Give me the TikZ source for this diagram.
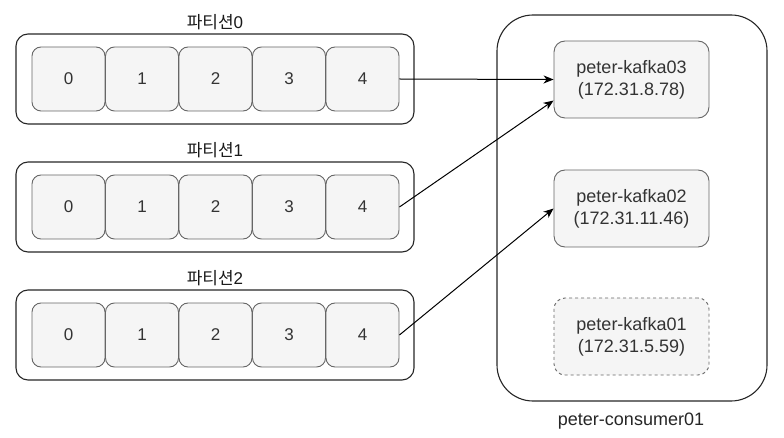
\documentclass[tikz,border=0pt]{standalone}
\usepackage{fontspec}
\setmainfont{Liberation Sans}
\newfontfamily\krfont{Noto Sans CJK KR}
\usetikzlibrary{arrows.meta,calc}
\definecolor{cellfill}{HTML}{F5F5F5}
\definecolor{cellline}{HTML}{666666}
\definecolor{txt}{HTML}{333333}
\begin{document}
\begin{tikzpicture}[x=1pt,y=-1pt,
  cellbox/.style={draw=cellline,fill=cellfill,rounded corners=9pt,line width=0.9pt,minimum width=73pt,minimum height=64pt,inner sep=0pt,text=txt,font=\fontsize{17}{20}\selectfont},
  partbox/.style={draw=black!85,rounded corners=12pt,line width=1.1pt,minimum width=398pt,minimum height=90pt,inner sep=0pt},
  partlabel/.style={font=\fontsize{17}{20}\selectfont,text=black!90},
  hostbox/.style={draw=cellline,fill=cellfill,rounded corners=11pt,line width=0.9pt,minimum width=155pt,minimum height=77pt,inner sep=0pt,text=txt,align=center,font=\fontsize{18}{22}\selectfont},
  container/.style={draw=black!85,rounded corners=36pt,line width=1.1pt,minimum width=270pt,minimum height=386pt,inner sep=0pt},
  conn/.style={draw=black,line width=1pt,-{Stealth[length=10pt,width=8pt,inset=3pt]}}
]
\useasboundingbox (0,0) rectangle (784,438);
% container
\node[container] (cont) at (632,208) {};
\node[font=\fontsize{18}{22}\selectfont,text=black!85] (contlabel) at (631,421) {peter-consumer01};
% hosts
\node[hostbox] (k3) at (631.5,79.5) {peter-kafka03\\(172.31.8.78)};
\node[hostbox] (k2) at (631.5,208.5) {peter-kafka02\\(172.31.11.46)};
\node[hostbox,dashed] (k1) at (631.5,336.5) {peter-kafka01\\(172.31.5.59)};
% partitions
\foreach \r/\yy in {0/79,1/207,2/335}{
  \node[partbox] (p\r) at (215,\yy) {};
  \node[partlabel] (pl\r) at (215,\yy-57) {{\krfont 파티션}\r};
  \foreach \c in {0,...,4}{
    \node[cellbox] (c\r\c) at ({68.5+73.5*\c},\yy) {\c};
  }
}
% connectors
\draw[conn] (c04.east) -- (k3.west);
\draw[conn] (c14.east) -- ($(k3.north west)!0.77!(k3.south west)$);
\draw[conn] (c24.east) -- (k2.west);
\end{tikzpicture}
\end{document}
